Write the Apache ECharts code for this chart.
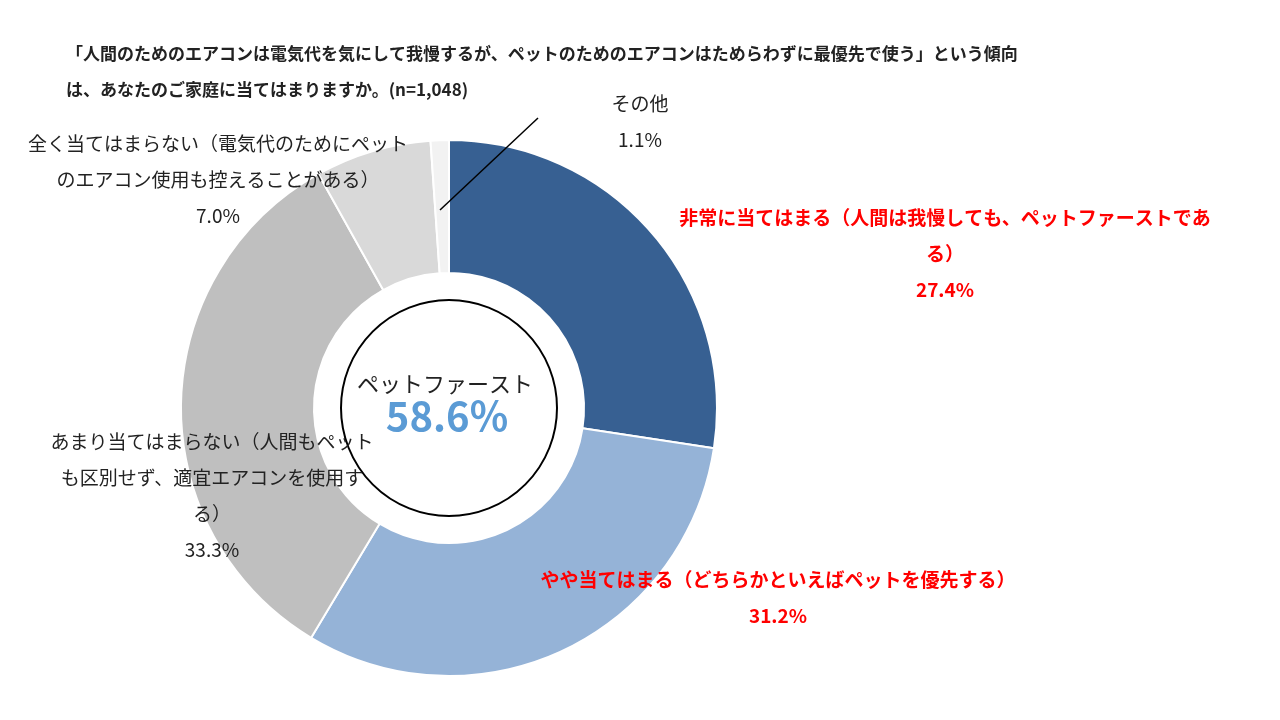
<!DOCTYPE html>
<html><head><meta charset="utf-8">
<script src="https://cdn.jsdelivr.net/npm/echarts@6/dist/echarts.min.js"></script>
<style>html,body{margin:0;background:#fff}#c{width:1280px;height:720px}</style>
</head><body><div id="c"></div>
<script>
var names = ['非常に当てはまる', 'やや当てはまる', 'あまり当てはまらない', '全く当てはまらない', 'その他'];
var values = [27.4, 31.2, 33.3, 7.0, 1.1];
var colors = ['#376092', '#95B3D7', '#BFBFBF', '#D9D9D9', '#F2F2F2'];
var font = '"Noto Sans CJK JP", sans-serif';

function txt(x, y, text, opt) {
  opt = opt || {};
  return {
    type: 'text', x: x, y: y, z: 100,
    style: {
      text: text, fill: opt.color || '#222', font: (opt.bold ? 'bold ' : '') + (opt.size || 19) + 'px ' + font,
      textAlign: opt.align || 'center', textVerticalAlign: 'top', lineHeight: opt.lh || 36
    }
  };
}

var chart = echarts.init(document.getElementById('c'));
chart.setOption({
  animation: false,
  series: [{
    type: 'pie',
    center: [449, 408],
    radius: [135, 268],
    startAngle: 90,
    clockwise: true,
    label: { show: false },
    itemStyle: { borderColor: '#fff', borderWidth: 2 },
    data: values.map(function (v, i) {
      return { value: v, name: names[i], itemStyle: { color: colors[i] } };
    })
  }],
  graphic: [
    txt(66, 36, '「人間のためのエアコンは電気代を気にして我慢するが、ペットのためのエアコンはためらわずに最優先で使う」という傾向\nは、あなたのご家庭に当てはまりますか。(n=1,048)', { align: 'left', bold: true, size: 17, lh: 36 }),
    { type: 'circle', z: 50, shape: { cx: 449, cy: 408, r: 108 }, style: { fill: '#fff', stroke: '#000', lineWidth: 2 } },
    txt(445, 366, 'ペットファースト', { size: 22 }),
    txt(447, 398, (values[0] + values[1]).toFixed(1) + '%', { size: 40, bold: true, color: '#5B9BD5' }),
    { type: 'line', z: 100, shape: { x1: 538, y1: 118, x2: 440, y2: 210 }, style: { stroke: '#000', lineWidth: 1.5 } },
    txt(640, 86, 'その他\n' + values[4].toFixed(1) + '%'),
    txt(945, 200, '非常に当てはまる（人間は我慢しても、ペットファーストであ\nる）\n' + values[0].toFixed(1) + '%', { color: '#FF0000', bold: true }),
    txt(778, 562, 'やや当てはまる（どちらかといえばペットを優先する）\n' + values[1].toFixed(1) + '%', { color: '#FF0000', bold: true }),
    txt(212, 424, 'あまり当てはまらない（人間もペット\nも区別せず、適宜エアコンを使用す\nる）\n' + values[2].toFixed(1) + '%'),
    txt(218, 126, '全く当てはまらない（電気代のためにペット\nのエアコン使用も控えることがある）\n' + values[3].toFixed(1) + '%')
  ]
});
</script></body></html>
